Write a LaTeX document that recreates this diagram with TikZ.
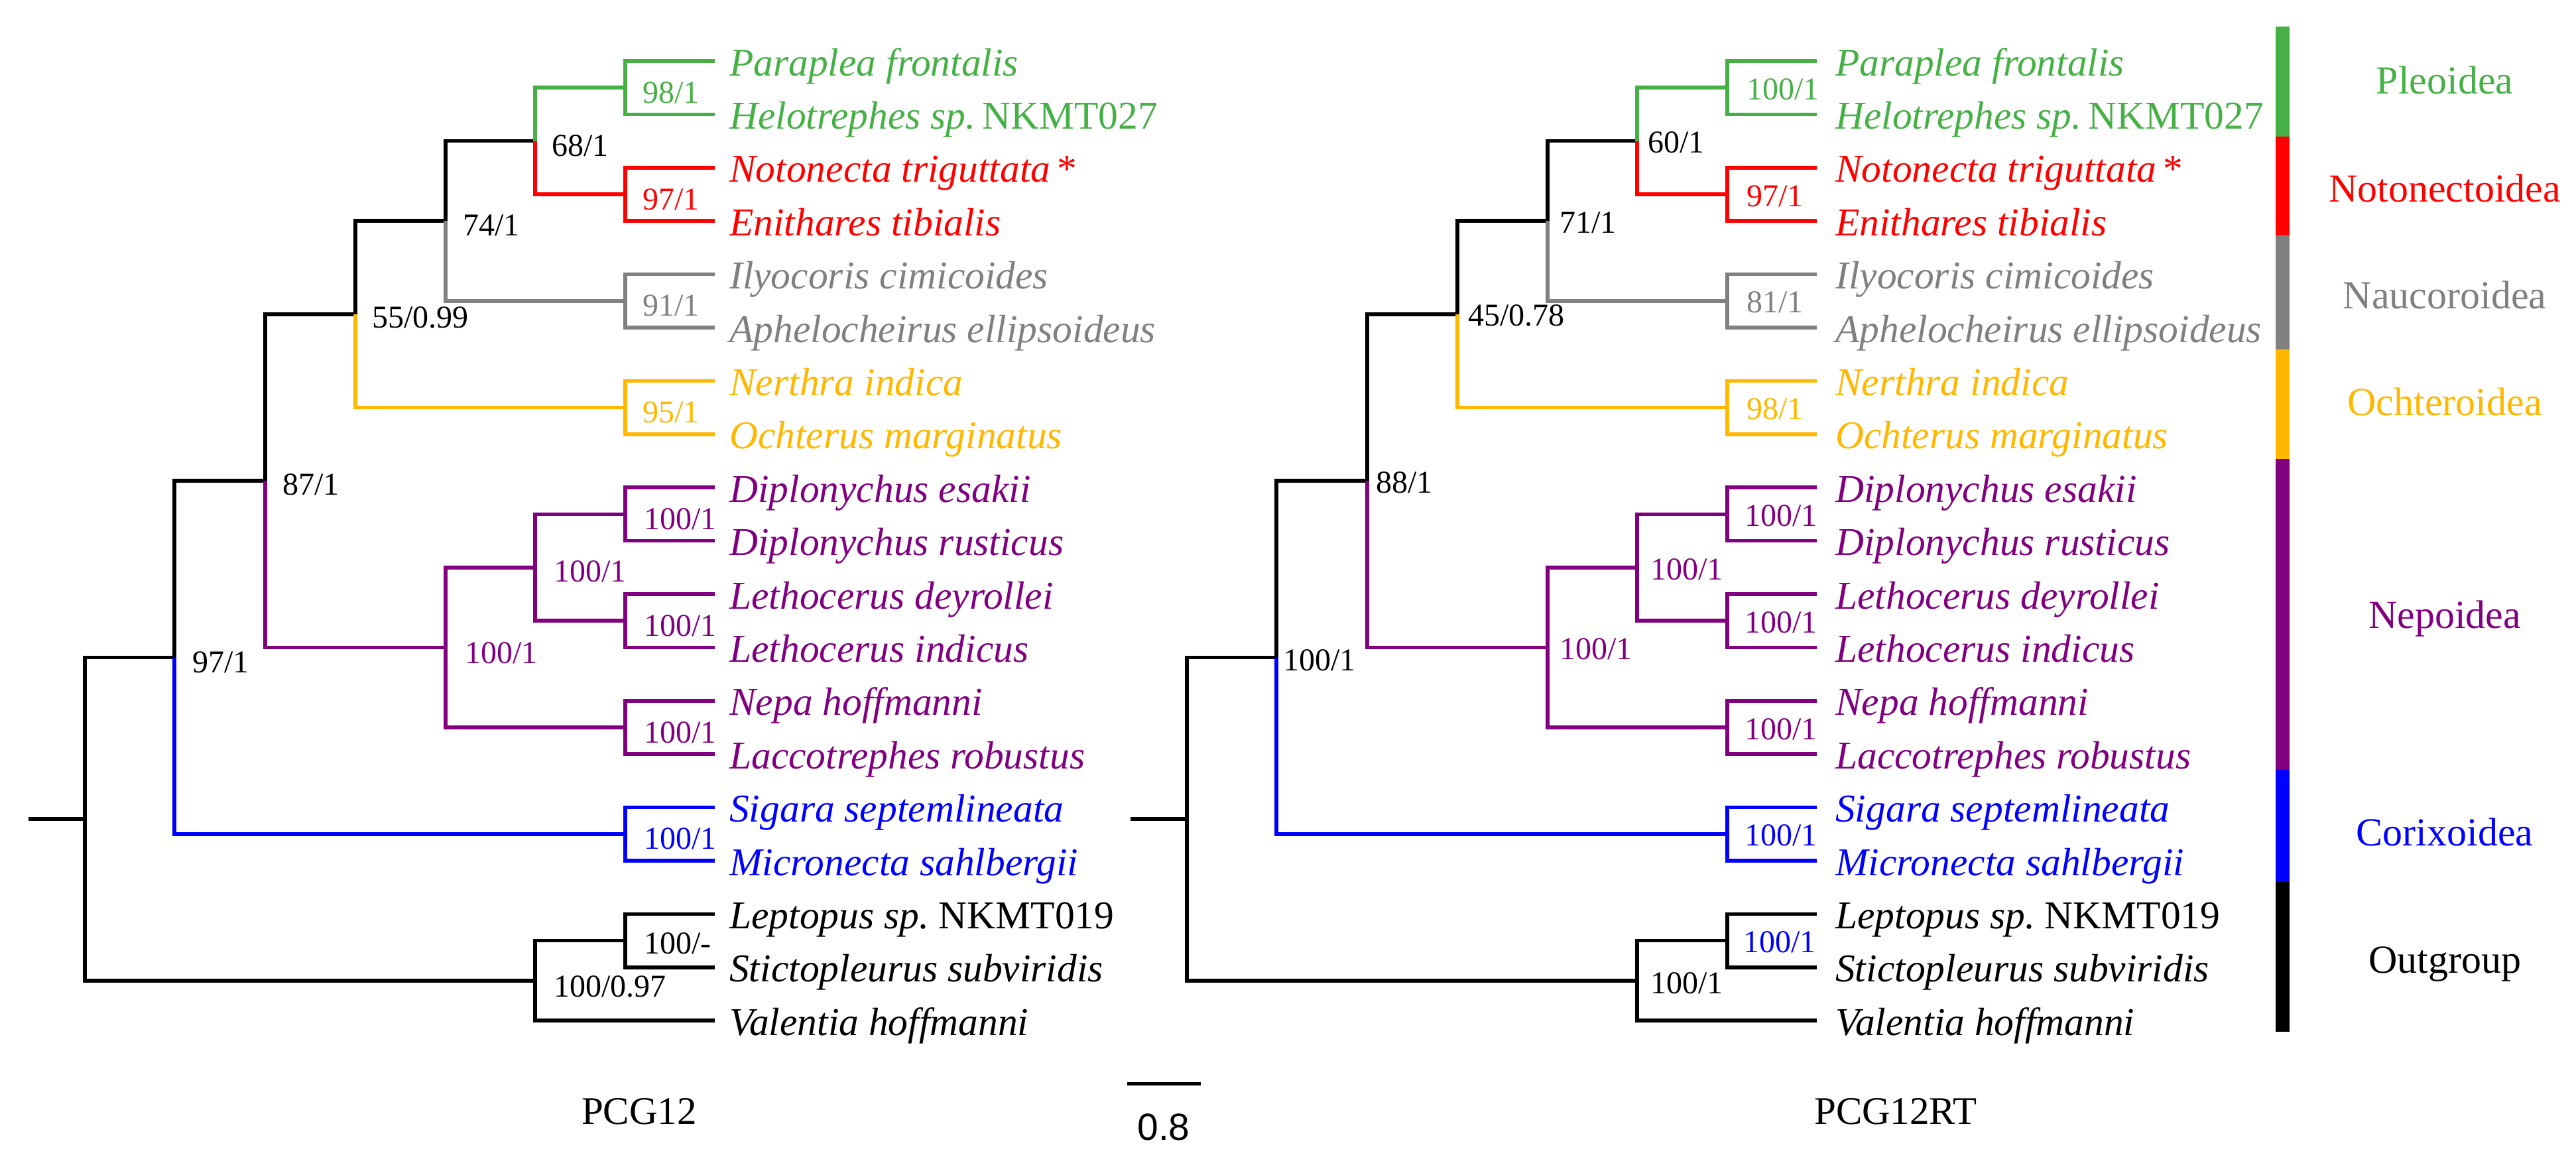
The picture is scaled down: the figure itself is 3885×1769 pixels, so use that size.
\documentclass[tikz,border=0pt]{standalone}
\usepackage{fontspec}
\setmainfont{Liberation Serif}
\newfontfamily\sansfam{Liberation Sans}
\usetikzlibrary{calc}
\definecolor{cgrn}{RGB}{70,176,70}
\definecolor{cred}{RGB}{255,0,0}
\definecolor{cgry}{RGB}{128,128,128}
\definecolor{corg}{RGB}{255,183,0}
\definecolor{cpur}{RGB}{128,0,128}
\definecolor{cblu}{RGB}{0,0,255}
\newcommand\treebranches{%
  \foreach \i in {0,...,18} \coordinate (L\i) at (1078,92+80.4*\i);
  \coordinate (Pleo) at (943,132.2);
  \coordinate (Noto) at (943,293);
  \coordinate (Nauc) at (943,453.8);
  \coordinate (Ocht) at (943,614.6);
  \coordinate (Dipl) at (943,775.4);
  \coordinate (Leth) at (943,936.2);
  \coordinate (Nepa) at (943,1097);
  \coordinate (Cori) at (943,1257.8);
  \coordinate (Lept) at (943,1418.6);
  \coordinate (n68) at (807,212.6);
  \coordinate (n74) at (672,333.2);
  \coordinate (n55) at (536,473.9);
  \coordinate (nDL) at (807,855.8);
  \coordinate (nNep) at (672,976.4);
  \coordinate (n87) at (400,725.15);
  \coordinate (n97) at (263,991.5);
  \coordinate (nOut) at (807,1478.9);
  \coordinate (root) at (128,1235.2);
  \coordinate (stub) at (43,1235.2);
  \draw[br] (stub) -- (root);
  \draw[br] (root) |- (n97);
  \draw[br] (root) |- (nOut);
  \draw[br] (n97) |- (n87);
  \draw[br,cblu] (n97) |- (Cori);
  \draw[br] (n87) |- (n55);
  \draw[br,cpur] (n87) |- (nNep);
  \draw[br] (n55) |- (n74);
  \draw[br,corg] (n55) |- (Ocht);
  \draw[br] (n74) |- (n68);
  \draw[br,cgry] (n74) |- (Nauc);
  \draw[br,cgrn] (n68) |- (Pleo);
  \draw[br,cred] (n68) |- (Noto);
  \draw[br,cpur] (nNep) |- (nDL);
  \draw[br,cpur] (nNep) |- (Nepa);
  \draw[br,cpur] (nDL) |- (Dipl);
  \draw[br,cpur] (nDL) |- (Leth);
  \draw[br] (nOut) |- (Lept);
  \draw[br] (nOut) |- (L18);
  \draw[br,cgrn] (Pleo) |- (L0);  \draw[br,cgrn] (Pleo) |- (L1);
  \draw[br,cred] (Noto) |- (L2);  \draw[br,cred] (Noto) |- (L3);
  \draw[br,cgry] (Nauc) |- (L4);  \draw[br,cgry] (Nauc) |- (L5);
  \draw[br,corg] (Ocht) |- (L6);  \draw[br,corg] (Ocht) |- (L7);
  \draw[br,cpur] (Dipl) |- (L8);  \draw[br,cpur] (Dipl) |- (L9);
  \draw[br,cpur] (Leth) |- (L10); \draw[br,cpur] (Leth) |- (L11);
  \draw[br,cpur] (Nepa) |- (L12); \draw[br,cpur] (Nepa) |- (L13);
  \draw[br,cblu] (Cori) |- (L14); \draw[br,cblu] (Cori) |- (L15);
  \draw[br] (Lept) |- (L16); \draw[br] (Lept) |- (L17);
}
\newcommand\leafnames[2]{%
  \node[leafname,cgrn] (#1t0) at (#2,114) {Paraplea frontalis};
  \node[leafname,cgrn] (#1t1) at (#2,194.4) {Helotrephes sp.\,\upshape NKMT027};
  \node[leafname,cred] (#1t2) at (#2,274.8) {Notonecta triguttata\,\upshape *};
  \node[leafname,cred] (#1t3) at (#2,355.2) {Enithares tibialis};
  \node[leafname,cgry] (#1t4) at (#2,435.6) {Ilyocoris cimicoides};
  \node[leafname,cgry] (#1t5) at (#2,516) {Aphelocheirus ellipsoideus};
  \node[leafname,corg] (#1t6) at (#2,596.4) {Nerthra indica};
  \node[leafname,corg] (#1t7) at (#2,676.8) {Ochterus marginatus};
  \node[leafname,cpur] (#1t8) at (#2,757.2) {Diplonychus esakii};
  \node[leafname,cpur] (#1t9) at (#2,837.6) {Diplonychus rusticus};
  \node[leafname,cpur] (#1t10) at (#2,918) {Lethocerus deyrollei};
  \node[leafname,cpur] (#1t11) at (#2,998.4) {Lethocerus indicus};
  \node[leafname,cpur] (#1t12) at (#2,1078.8) {Nepa hoffmanni};
  \node[leafname,cpur] (#1t13) at (#2,1159.2) {Laccotrephes robustus};
  \node[leafname,cblu] (#1t14) at (#2,1239.6) {Sigara septemlineata};
  \node[leafname,cblu] (#1t15) at (#2,1320) {Micronecta sahlbergii};
  \node[leafname] (#1t16) at (#2,1400.4) {Leptopus sp.\ \upshape NKMT019};
  \node[leafname] (#1t17) at (#2,1480.8) {Stictopleurus subviridis};
  \node[leafname] (#1t18) at (#2,1561.2) {Valentia hoffmanni};
}
\begin{document}
\begin{tikzpicture}[x=1pt,y=-1pt,
  br/.style={line width=5.5pt,line join=miter},
  leafname/.style={anchor=base west,inner sep=0pt,font=\fontsize{59.5}{70}\selectfont\itshape},
  bs/.style={anchor=base west,inner sep=0pt,font=\fontsize{48}{56}\selectfont},
  grp/.style={anchor=base,inner sep=0pt,font=\fontsize{60}{70}\selectfont},
  ttl/.style={anchor=base,inner sep=0pt,font=\fontsize{59}{70}\selectfont}]
\useasboundingbox (0,0) rectangle (3885,1769);
% left tree
\begin{scope}[name prefix=A]
\treebranches
\end{scope}
% right tree
\begin{scope}[xshift=1662pt,name prefix=B]
\treebranches
\end{scope}
\leafnames{A}{1100}
\leafnames{B}{2768}
% left support values
\node[bs,cgrn] (a1) at ($(APleo)+(26,23)$) {98/1};
\node[bs,cred] (a2) at ($(ANoto)+(26,23)$) {97/1};
\node[bs,cgry] (a3) at ($(ANauc)+(26,23)$) {91/1};
\node[bs,corg] (a4) at ($(AOcht)+(26,23)$) {95/1};
\node[bs,cpur] (a5) at ($(ADipl)+(28,23)$) {100/1};
\node[bs,cpur] (a6) at ($(ALeth)+(28,23)$) {100/1};
\node[bs,cpur] (a7) at ($(ANepa)+(28,23)$) {100/1};
\node[bs,cblu] (a8) at ($(ACori)+(28,23)$) {100/1};
\node[bs] (a9) at ($(ALept)+(28,20)$) {100/-};
\node[bs] (a10) at ($(An68)+(25,23)$) {68/1};
\node[bs] (a11) at ($(An74)+(26,22)$) {74/1};
\node[bs] (a12) at ($(An55)+(25,21)$) {55/0.99};
\node[bs] (a13) at ($(An87)+(26,21)$) {87/1};
\node[bs,cpur] (a14) at ($(AnDL)+(28,22)$) {100/1};
\node[bs,cpur] (a15) at ($(AnNep)+(29,24)$) {100/1};
\node[bs] (a16) at ($(An97)+(27,23)$) {97/1};
\node[bs] (a17) at ($(AnOut)+(28,25)$) {100/0.97};
% right support values
\node[bs,cgrn] (b1) at ($(BPleo)+(29,18)$) {100/1};
\node[bs,cred] (b2) at ($(BNoto)+(29,18)$) {97/1};
\node[bs,cgry] (b3) at ($(BNauc)+(29,18)$) {81/1};
\node[bs,corg] (b4) at ($(BOcht)+(29,18)$) {98/1};
\node[bs,cpur] (b5) at ($(BDipl)+(26,18)$) {100/1};
\node[bs,cpur] (b6) at ($(BLeth)+(26,18)$) {100/1};
\node[bs,cpur] (b7) at ($(BNepa)+(26,18)$) {100/1};
\node[bs,cblu] (b8) at ($(BCori)+(26,18)$) {100/1};
\node[bs,cblu] (b9) at ($(BLept)+(24,18)$) {100/1};
\node[bs] (b10) at ($(Bn68)+(16,18)$) {60/1};
\node[bs] (b11) at ($(Bn74)+(18,18)$) {71/1};
\node[bs] (b12) at ($(Bn55)+(16,18)$) {45/0.78};
\node[bs] (b13) at ($(Bn87)+(13,18)$) {88/1};
\node[bs] (b14) at ($(Bn97)+(10,20)$) {100/1};
\node[bs,cpur] (b15) at ($(BnDL)+(20,19)$) {100/1};
\node[bs,cpur] (b16) at ($(BnNep)+(18,18)$) {100/1};
\node[bs] (b17) at ($(BnOut)+(20,20)$) {100/1};
% titles and scale
\node[ttl] (tA) at (964,1695) {PCG12};
\node[ttl] (tB) at (2859,1695) {PCG12RT};
\coordinate (sbL) at (1700,1634);
\coordinate (sbR) at (1811,1634);
\draw[line width=5pt] (sbL) -- (sbR);
\node[anchor=base,inner sep=0pt,font=\sansfam\fontsize{57}{66}\selectfont] (sbT) at (1755,1719) {0.8};
% colour bar
\fill[cgrn] (3432,40) rectangle (3453,206);
\fill[cred] (3432,206) rectangle (3453,355);
\fill[cgry] (3432,355) rectangle (3453,527);
\fill[corg] (3432,527) rectangle (3453,692);
\fill[cpur] (3432,692) rectangle (3453,1161);
\fill[cblu] (3432,1161) rectangle (3453,1330);
\fill[black] (3432,1330) rectangle (3453,1556);
% group names
\node[grp,cgrn] (g1) at (3687,141) {Pleoidea};
\node[grp,cred] (g2) at (3687,304) {Notonectoidea};
\node[grp,cgry] (g3) at (3687,465) {Naucoroidea};
\node[grp,corg] (g4) at (3687,626) {Ochteroidea};
\node[grp,cpur] (g5) at (3687,947) {Nepoidea};
\node[grp,cblu] (g6) at (3687,1275) {Corixoidea};
\node[grp] (g7) at (3687,1467) {Outgroup};
\end{tikzpicture}
\end{document}
